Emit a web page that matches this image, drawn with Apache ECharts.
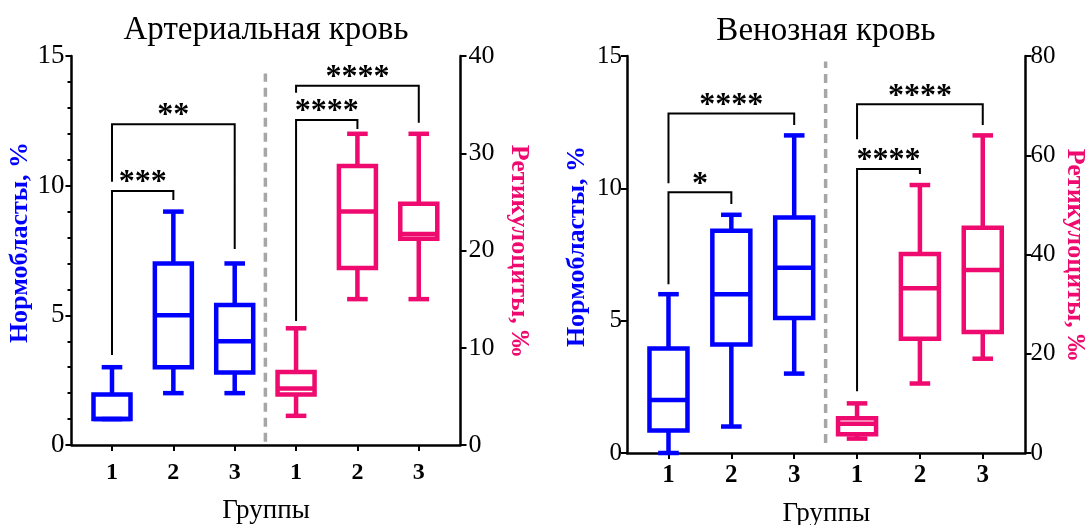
<!DOCTYPE html>
<html><head><meta charset="utf-8">
<script src="https://cdn.jsdelivr.net/npm/echarts@6/dist/echarts.min.js"></script>
<style>html,body{margin:0;padding:0;background:#fff}#c{width:1089px;height:525px}</style>
</head><body><div id="c"></div>
<script>
// ---------- data ----------
const groups = ['1', '2', '3'];
const xLabels = ['1', '2', '3', '1', '2', '3'];
const titles = ['Артериальная кровь', 'Венозная кровь'];
const xName = 'Группы';
const leftName = 'Нормобласты, %';
const rightName = 'Ретикулоциты, ‰';
// box values: [min, q1, median, q3, max]
const artNormo = [[1, 1, 1, 1.95, 3], [2, 3, 5, 7, 9], [2, 2.8, 4, 5.4, 7]];
const artRetic = [[3, 5.2, 5.8, 7.5, 12], [15, 18.2, 24, 28.7, 32], [15, 21.2, 21.7, 24.8, 32]];
const venNormo = [[0, 0.85, 2, 3.95, 6], [1, 4.1, 6, 8.4, 9], [3, 5.1, 7, 8.9, 12]];
const venRetic = [[2.9, 3.8, 5.9, 7, 10], [14, 23, 33.2, 40.1, 54], [19, 24.4, 36.9, 45.4, 64]];
// significance brackets: [fromGroup, toGroup, barLevel, leftLegEnd, rightLegEnd, label]
const artNormoSig = [[1, 2, 9.79, 3.47, 9.45, '***'], [1, 3, 12.37, 10.15, 7.56, '**']];
const artReticSig = [[1, 2, 33.41, 12.75, 32.49, '****'], [1, 3, 36.94, 36.22, 33.14, '****']];
const venNormoSig = [[1, 2, 9.85, 6.38, 9.41, '*'], [1, 3, 12.83, 10.19, 12.39, '****']];
const venReticSig = [[1, 2, 57.25, 12.42, 56.24, '****'], [1, 3, 70.27, 63.2, 66.1, '****']];
// axis ranges [min, max, interval]
const artNormoAxis = [0, 15, 5];
const artReticAxis = [0, 40, 10];
const venNormoAxis = [0, 15, 5];
const venReticAxis = [0, 80, 20];
// dashed separator extent (in left-axis units)
const artSeparator = [0.13, 14.33];
const venSeparator = [0.38, 14.79];

// ---------- chart ----------
const SERIF = 'Liberation Serif';
const BLUE = '#0000ff';
const PINK = '#ee0a6e';
const nG = groups.length;
const xTicks = xLabels.map((_, i) => i + 1);

const chart = echarts.init(document.getElementById('c'), null, { renderer: 'canvas' });

function xAx(gi, labelSize, margin, nameGap) {
  return {
    type: 'value', gridIndex: gi, min: 0.34, max: 6.68,
    axisLine: { show: true, onZero: false, lineStyle: { color: '#000', width: 2.5 } },
    axisTick: { show: true, customValues: xTicks, length: 6, lineStyle: { color: '#000', width: 2 } },
    axisLabel: { show: true, customValues: xTicks, formatter: v => xLabels[Math.round(v) - 1],
      fontFamily: SERIF, fontWeight: 'bold', fontSize: labelSize, color: '#000', margin: margin },
    splitLine: { show: false }, minorTick: { show: false },
    name: xName, nameLocation: 'middle', nameGap: nameGap,
    nameTextStyle: { fontFamily: SERIF, fontSize: 27, fontWeight: 'normal', color: '#000' }
  };
}
function yAx(gi, pos, range, name, color, nameGap, rot, margin, minor, labelSize, pad) {
  return {
    type: 'value', gridIndex: gi, position: pos, min: range[0], max: range[1], interval: range[2],
    axisLine: { show: true, onZero: false, lineStyle: { color: '#000', width: 2.5 } },
    axisTick: { show: true, length: 6, lineStyle: { color: '#000', width: 2 } },
    minorTick: { show: minor, splitNumber: 5, length: 4, lineStyle: { color: '#000', width: 2 } },
    axisLabel: { fontFamily: SERIF, fontSize: labelSize, fontWeight: 'normal', color: '#000', margin: margin },
    splitLine: { show: false },
    name: name, nameLocation: 'middle', nameGap: nameGap, nameRotate: rot,
    nameTextStyle: { fontFamily: SERIF, fontSize: 26, fontWeight: 'bold', color: color, padding: pad }
  };
}

function boxRender(color, halfW, capHalf, lw) {
  return function (params, api) {
    const x = api.value(0);
    const p = [1, 2, 3, 4, 5].map(i => api.coord([x, api.value(i)]));
    const cx = p[0][0];
    const st = { stroke: color, lineWidth: lw, fill: 'none' };
    return { type: 'group', children: [
      { type: 'rect', shape: { x: cx - halfW, y: p[3][1], width: 2 * halfW, height: p[1][1] - p[3][1] }, style: st },
      { type: 'line', shape: { x1: cx - halfW, y1: p[2][1], x2: cx + halfW, y2: p[2][1] }, style: st },
      { type: 'line', shape: { x1: cx, y1: p[3][1], x2: cx, y2: p[4][1] }, style: st },
      { type: 'line', shape: { x1: cx, y1: p[1][1], x2: cx, y2: p[0][1] }, style: st },
      { type: 'line', shape: { x1: cx - capHalf, y1: p[4][1], x2: cx + capHalf, y2: p[4][1] }, style: st },
      { type: 'line', shape: { x1: cx - capHalf, y1: p[0][1], x2: cx + capHalf, y2: p[0][1] }, style: st }
    ] };
  };
}
function boxSeries(values, offset, xi, yi, color, halfW) {
  return {
    type: 'custom', xAxisIndex: xi, yAxisIndex: yi, silent: true, clip: false,
    encode: { x: 0, y: [1, 2, 3, 4, 5] },
    data: values.map((d, i) => [i + 1 + offset].concat(d)),
    renderItem: boxRender(color, halfW, 10.3, 4.5)
  };
}
function sigSeries(sig, offset, xi, yi) {
  return {
    type: 'custom', xAxisIndex: xi, yAxisIndex: yi, silent: true, clip: false,
    encode: { x: [0, 1], y: [2, 3, 4] },
    data: sig.map(s => [s[0] + offset, s[1] + offset, s[2], s[3], s[4]]),
    renderItem: function (params, api) {
      const x1 = api.value(0), x2 = api.value(1), top = api.value(2);
      const a = api.coord([x1, api.value(3)]), b = api.coord([x1, top]);
      const c = api.coord([x2, top]), d = api.coord([x2, api.value(4)]);
      return { type: 'group', children: [
        { type: 'polyline', shape: { points: [a, b, c, d] }, style: { stroke: '#000', lineWidth: 2, fill: 'none' } },
        { type: 'text', x: (b[0] + c[0]) / 2, y: b[1] - 8,
          style: { text: sig[params.dataIndex][5], align: 'center', verticalAlign: 'middle',
            fontFamily: SERIF, fontWeight: 'bold', fontSize: 32, fill: '#000' } }
      ] };
    }
  };
}
function sepSeries(ext, xi, yi) {
  return {
    type: 'custom', xAxisIndex: xi, yAxisIndex: yi, silent: true, clip: false,
    encode: { x: 0, y: [1, 2] },
    data: [[nG + 0.5, ext[0], ext[1]]],
    renderItem: function (params, api) {
      const a = api.coord([api.value(0), api.value(1)]), b = api.coord([api.value(0), api.value(2)]);
      return { type: 'line', shape: { x1: a[0], y1: a[1], x2: b[0], y2: b[1] },
        style: { stroke: '#a6a6a6', lineWidth: 3.5, lineDash: [9, 6] } };
    }
  };
}

chart.setOption({
  animation: false,
  backgroundColor: '#fff',
  textStyle: { fontFamily: SERIF },
  graphic: [
    { type: 'text', x: 266, y: 30, style: { text: titles[0], align: 'center', verticalAlign: 'middle', fontFamily: SERIF, fontSize: 33, fill: '#000' } },
    { type: 'text', x: 826, y: 31, style: { text: titles[1], align: 'center', verticalAlign: 'middle', fontFamily: SERIF, fontSize: 33, fill: '#000' } }
  ],
  grid: [
    { left: 71.5, top: 56, width: 389, height: 389, containLabel: false, outerBoundsMode: 'none' },
    { left: 627, top: 56, width: 398.5, height: 397, containLabel: false, outerBoundsMode: 'none' }
  ],
  xAxis: [xAx(0, 24, 16, 52), xAx(1, 25, 10, 47)],
  yAxis: [
    yAx(0, 'left', artNormoAxis, leftName, BLUE, 35, 90, 7, true, 27, [0, 0, 0, 16]),
    yAx(0, 'right', artReticAxis, rightName, PINK, 45, -90, 8, false, 26, [0, 0, 0, 0]),
    yAx(1, 'left', venNormoAxis, leftName, BLUE, 37, 90, 5, false, 25, [0, 0, 0, 16]),
    yAx(1, 'right', venReticAxis, rightName, PINK, 36, -90, 5, false, 25, [0, 0, 0, 0])
  ],
  series: [
    sepSeries(artSeparator, 0, 0),
    sepSeries(venSeparator, 1, 2),
    boxSeries(artNormo, 0, 0, 0, BLUE, 18.5),
    boxSeries(artRetic, nG, 0, 1, PINK, 18.5),
    boxSeries(venNormo, 0, 1, 2, BLUE, 19),
    boxSeries(venRetic, nG, 1, 3, PINK, 19),
    sigSeries(artNormoSig, 0, 0, 0),
    sigSeries(artReticSig, nG, 0, 1),
    sigSeries(venNormoSig, 0, 1, 2),
    sigSeries(venReticSig, nG, 1, 3)
  ]
});
</script>
</body></html>
